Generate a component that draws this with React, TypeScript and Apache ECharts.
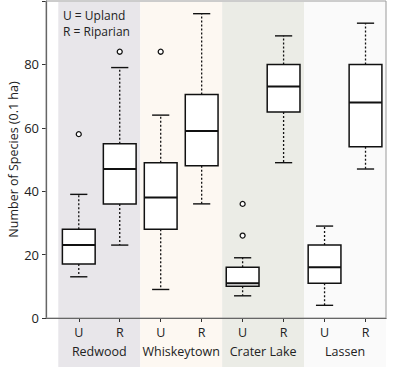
import React, { useEffect, useRef } from "react";
import * as echarts from "echarts";

const sites = ["Redwood", "Whiskeytown", "Crater Lake", "Lassen"];
const siteColors = ["#e8e6ea", "#fdf8f2", "#ebece6", "#fafafa"];
const habitats = ["U", "R", "U", "R", "U", "R", "U", "R"];
const whiskerLow = [13, 23, 9, 36, 7, 49, 4, 47];
const q1 = [17, 36, 28, 48, 10, 65, 11, 54];
const median = [23, 47, 38, 59, 11, 73, 16, 68];
const q3 = [28, 55, 49, 70.5, 16, 80, 23, 80];
const whiskerHigh = [39, 79, 64, 96, 19, 89, 29, 93];
const outliers: [number, number][] = [
  [0, 58],
  [1, 84],
  [2, 84],
  [4, 36],
  [4, 26],
];
const yTicks = [0, 20, 40, 60, 80];
const legendLines = ["U = Upland", "R = Riparian"];

const FONT = "'Open Sans', 'Noto Sans', sans-serif";
const TXT = "#222222";

export default function App() {
  const ref = useRef<HTMLDivElement>(null);
  useEffect(() => {
    if (!ref.current) return;
    const chart = echarts.init(ref.current, null, { renderer: "svg" });
    const boxData = habitats.map((_, i) => [i, whiskerLow[i], q1[i], median[i], q3[i], whiskerHigh[i]]);
    const bandData = sites.map((_, g) => [g * 2 + 0.5, g]);
    chart.setOption({
      animation: false,
      grid: {
        left: 46,
        right: 14,
        top: 1,
        bottom: 49,
        containLabel: false,
        outerBoundsMode: "none",
        show: true,
        borderColor: "#9a9a9a",
        borderWidth: 1,
        backgroundColor: "transparent",
        z: 1,
      },
      xAxis: [
        {
          type: "value",
          min: -0.8,
          max: 7.5,
          splitLine: { show: false },
          axisLine: { show: true, onZero: false, lineStyle: { color: "#333", width: 1.2 } },
          axisTick: {
            show: true,
            customValues: habitats.map((_, i) => i),
            length: 4,
            lineStyle: { color: "#333" },
          },
          axisLabel: {
            customValues: habitats.map((_, i) => i),
            formatter: (v: number) => habitats[Math.round(v)] ?? "",
            color: TXT,
            fontFamily: FONT,
            fontSize: 12.5,
            margin: 8,
            showMinLabel: true,
            showMaxLabel: true,
          },
        },
        {
          type: "value",
          min: -0.8,
          max: 7.5,
          position: "bottom",
          offset: 0,
          splitLine: { show: false },
          axisLine: { show: false },
          axisTick: { show: false },
          axisLabel: {
            customValues: sites.map((_, g) => g * 2 + 0.5),
            formatter: (v: number) => sites[Math.round((v - 0.5) / 2)] ?? "",
            color: TXT,
            fontFamily: FONT,
            fontSize: 12.5,
            margin: 27,
          },
        },
      ],
      yAxis: {
        type: "value",
        min: 0,
        max: 100,
        interval: 20,
        name: "Number of Species (0.1 ha)",
        nameLocation: "middle",
        nameGap: 26,
        nameMoveOverlap: false,
        nameTextStyle: { color: TXT, fontFamily: FONT, fontSize: 12.5 },
        splitLine: { show: false },
        axisLine: { show: true, onZero: false, lineStyle: { color: "#333", width: 1.2 } },
        axisTick: { show: true, length: 4, lineStyle: { color: "#333" } },
        axisLabel: {
          color: TXT,
          fontFamily: FONT,
          fontSize: 13,
          margin: 7,
          formatter: (v: number) => (yTicks.includes(v) ? String(v) : ""),
        },
      },
      graphic: legendLines.map((t, k) => ({
        type: "text",
        left: 63,
        top: 9 + k * 16,
        z: 10,
        style: { text: t, fill: TXT, font: `12px ${FONT}` },
      })),
      series: [
        {
          type: "custom",
          z: -1,
          silent: true,
          data: bandData,
          renderItem: (params: any, api: any) => {
            const cx = api.coord([api.value(0), 0])[0];
            const w = api.size([1, 0])[0];
            const g = api.value(1);
            return {
              type: "rect",
              shape: { x: cx - w, y: 2, width: 2 * w, height: api.getHeight() },
              style: { fill: siteColors[g] },
            };
          },
        },
        {
          type: "custom",
          z: 3,
          data: boxData,
          renderItem: (params: any, api: any) => {
            const i = api.value(0);
            const unit = api.size([1, 0])[0];
            const hw = unit * 0.4;
            const cw = unit * 0.21;
            const pLow = api.coord([i, api.value(1)]);
            const pQ1 = api.coord([i, api.value(2)]);
            const pMed = api.coord([i, api.value(3)]);
            const pQ3 = api.coord([i, api.value(4)]);
            const pHigh = api.coord([i, api.value(5)]);
            const x = pLow[0];
            const dash = { stroke: "#111", lineWidth: 1.3, lineDash: [2, 2] };
            const solid = { stroke: "#111", lineWidth: 1.4 };
            return {
              type: "group",
              children: [
                { type: "line", shape: { x1: x, y1: pQ3[1], x2: x, y2: pHigh[1] }, style: dash },
                { type: "line", shape: { x1: x, y1: pQ1[1], x2: x, y2: pLow[1] }, style: dash },
                { type: "line", shape: { x1: x - cw, y1: pHigh[1], x2: x + cw, y2: pHigh[1] }, style: solid },
                { type: "line", shape: { x1: x - cw, y1: pLow[1], x2: x + cw, y2: pLow[1] }, style: solid },
                {
                  type: "rect",
                  shape: { x: x - hw, y: pQ3[1], width: 2 * hw, height: pQ1[1] - pQ3[1] },
                  style: { fill: "#fff", stroke: "#111", lineWidth: 1.5 },
                },
                { type: "line", shape: { x1: x - hw, y1: pMed[1], x2: x + hw, y2: pMed[1] }, style: { stroke: "#111", lineWidth: 2 } },
              ],
            };
          },
        },
        {
          type: "scatter",
          z: 4,
          data: outliers,
          symbol: "circle",
          symbolSize: 5,
          itemStyle: { color: "#fff", borderColor: "#111", borderWidth: 1.3, opacity: 1 },
        },
      ],
    });
    return () => chart.dispose();
  }, []);
  return (
    <div
      ref={ref}
      style={{ position: "absolute", left: 0, top: 0, width: 400, height: 367 }}
    />
  );
}
